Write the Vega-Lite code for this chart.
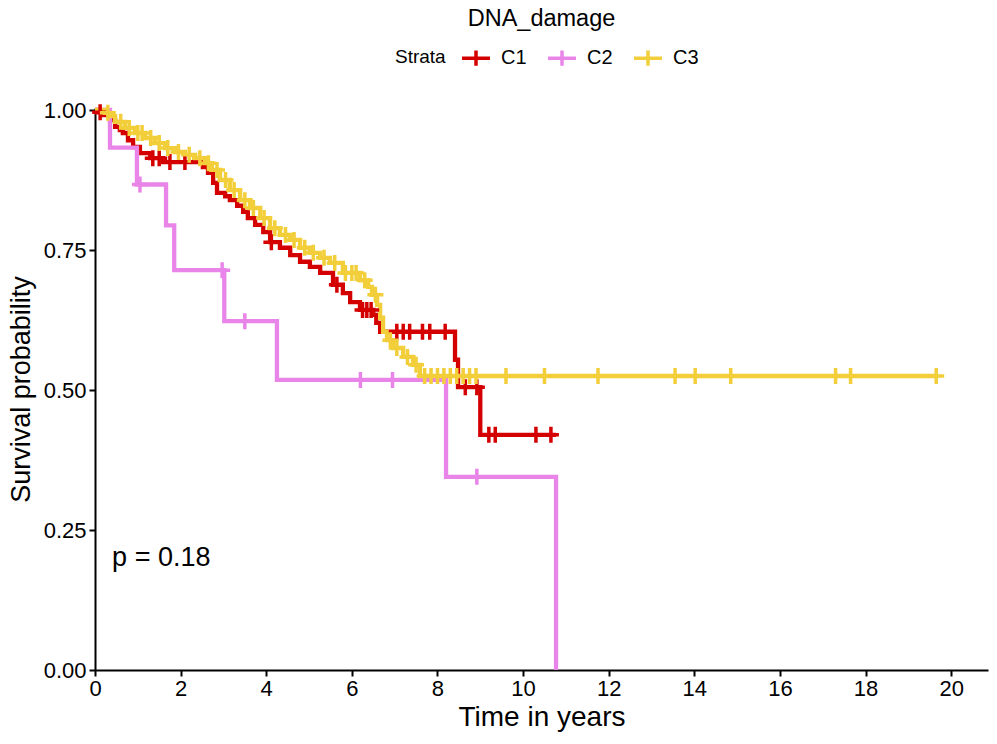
{
  "$schema": "https://vega.github.io/schema/vega-lite/v6.json",
  "width": 893,
  "height": 562,
  "autosize": {"type": "none"},
  "padding": {"left": 95, "top": 108, "right": 9, "bottom": 74},
  "background": "white",
  "title": {"text": "DNA_damage", "anchor": "middle", "fontSize": 23.5, "fontWeight": "normal", "font": "Liberation Sans", "color": "black", "offset": 12},
  "config": {
    "font": "Liberation Sans",
    "view": {"stroke": null},
    "axis": {"grid": false, "domainColor": "black", "domainWidth": 2, "tickColor": "black", "tickWidth": 2, "tickSize": 6, "labelFontSize": 22, "labelColor": "black", "titleFontSize": 27, "titleFontWeight": "normal", "titleColor": "black", "labelFont": "Liberation Sans", "titleFont": "Liberation Sans"}
  },
  "datasets": {
    "curves": [
      {"strata": "C1", "time": 0, "surv": 1},
      {"strata": "C1", "time": 0.05, "surv": 0.996},
      {"strata": "C1", "time": 0.19, "surv": 0.991},
      {"strata": "C1", "time": 0.35, "surv": 0.982},
      {"strata": "C1", "time": 0.47, "surv": 0.970},
      {"strata": "C1", "time": 0.58, "surv": 0.964},
      {"strata": "C1", "time": 0.65, "surv": 0.959},
      {"strata": "C1", "time": 0.77, "surv": 0.946},
      {"strata": "C1", "time": 0.89, "surv": 0.934},
      {"strata": "C1", "time": 1.05, "surv": 0.923},
      {"strata": "C1", "time": 1.29, "surv": 0.914},
      {"strata": "C1", "time": 1.59, "surv": 0.907},
      {"strata": "C1", "time": 2.52, "surv": 0.898},
      {"strata": "C1", "time": 2.64, "surv": 0.888},
      {"strata": "C1", "time": 2.76, "surv": 0.870},
      {"strata": "C1", "time": 2.85, "surv": 0.852},
      {"strata": "C1", "time": 3.04, "surv": 0.846},
      {"strata": "C1", "time": 3.15, "surv": 0.839},
      {"strata": "C1", "time": 3.32, "surv": 0.829},
      {"strata": "C1", "time": 3.46, "surv": 0.818},
      {"strata": "C1", "time": 3.57, "surv": 0.807},
      {"strata": "C1", "time": 3.74, "surv": 0.795},
      {"strata": "C1", "time": 3.93, "surv": 0.782},
      {"strata": "C1", "time": 4.09, "surv": 0.764},
      {"strata": "C1", "time": 4.32, "surv": 0.754},
      {"strata": "C1", "time": 4.56, "surv": 0.741},
      {"strata": "C1", "time": 4.79, "surv": 0.729},
      {"strata": "C1", "time": 5.02, "surv": 0.720},
      {"strata": "C1", "time": 5.26, "surv": 0.709},
      {"strata": "C1", "time": 5.56, "surv": 0.688},
      {"strata": "C1", "time": 5.79, "surv": 0.673},
      {"strata": "C1", "time": 5.96, "surv": 0.657},
      {"strata": "C1", "time": 6.19, "surv": 0.643},
      {"strata": "C1", "time": 6.50, "surv": 0.634},
      {"strata": "C1", "time": 6.57, "surv": 0.620},
      {"strata": "C1", "time": 6.66, "surv": 0.604},
      {"strata": "C1", "time": 8.41, "surv": 0.554},
      {"strata": "C1", "time": 8.48, "surv": 0.505},
      {"strata": "C1", "time": 9.0, "surv": 0.420},
      {"strata": "C1", "time": 10.77, "surv": 0.420},
      {"strata": "C2", "time": 0, "surv": 1},
      {"strata": "C2", "time": 0.35, "surv": 0.933},
      {"strata": "C2", "time": 0.98, "surv": 0.867},
      {"strata": "C2", "time": 1.66, "surv": 0.794},
      {"strata": "C2", "time": 1.85, "surv": 0.714},
      {"strata": "C2", "time": 3.02, "surv": 0.623},
      {"strata": "C2", "time": 4.25, "surv": 0.518},
      {"strata": "C2", "time": 8.2, "surv": 0.345},
      {"strata": "C2", "time": 10.77, "surv": 0},
      {"strata": "C3", "time": 0, "surv": 1},
      {"strata": "C3", "time": 0.23, "surv": 0.995},
      {"strata": "C3", "time": 0.35, "surv": 0.989},
      {"strata": "C3", "time": 0.47, "surv": 0.979},
      {"strata": "C3", "time": 0.70, "surv": 0.968},
      {"strata": "C3", "time": 0.93, "surv": 0.959},
      {"strata": "C3", "time": 1.17, "surv": 0.950},
      {"strata": "C3", "time": 1.40, "surv": 0.941},
      {"strata": "C3", "time": 1.64, "surv": 0.932},
      {"strata": "C3", "time": 1.87, "surv": 0.925},
      {"strata": "C3", "time": 2.10, "surv": 0.920},
      {"strata": "C3", "time": 2.34, "surv": 0.914},
      {"strata": "C3", "time": 2.57, "surv": 0.905},
      {"strata": "C3", "time": 2.73, "surv": 0.893},
      {"strata": "C3", "time": 2.92, "surv": 0.875},
      {"strata": "C3", "time": 3.15, "surv": 0.857},
      {"strata": "C3", "time": 3.39, "surv": 0.839},
      {"strata": "C3", "time": 3.62, "surv": 0.825},
      {"strata": "C3", "time": 3.86, "surv": 0.807},
      {"strata": "C3", "time": 4.09, "surv": 0.789},
      {"strata": "C3", "time": 4.32, "surv": 0.777},
      {"strata": "C3", "time": 4.56, "surv": 0.768},
      {"strata": "C3", "time": 4.79, "surv": 0.754},
      {"strata": "C3", "time": 5.02, "surv": 0.745},
      {"strata": "C3", "time": 5.26, "surv": 0.736},
      {"strata": "C3", "time": 5.49, "surv": 0.727},
      {"strata": "C3", "time": 5.79, "surv": 0.709},
      {"strata": "C3", "time": 6.19, "surv": 0.696},
      {"strata": "C3", "time": 6.38, "surv": 0.684},
      {"strata": "C3", "time": 6.47, "surv": 0.670},
      {"strata": "C3", "time": 6.59, "surv": 0.652},
      {"strata": "C3", "time": 6.66, "surv": 0.629},
      {"strata": "C3", "time": 6.73, "surv": 0.604},
      {"strata": "C3", "time": 6.82, "surv": 0.589},
      {"strata": "C3", "time": 6.96, "surv": 0.575},
      {"strata": "C3", "time": 7.20, "surv": 0.559},
      {"strata": "C3", "time": 7.43, "surv": 0.545},
      {"strata": "C3", "time": 7.59, "surv": 0.525},
      {"strata": "C3", "time": 19.70, "surv": 0.525}
    ],
    "censors": [
      {"strata": "C1", "time": 0.12, "surv": 0.996},
      {"strata": "C1", "time": 1.35, "surv": 0.914},
      {"strata": "C1", "time": 1.5, "surv": 0.914},
      {"strata": "C1", "time": 1.75, "surv": 0.907},
      {"strata": "C1", "time": 2.1, "surv": 0.907},
      {"strata": "C1", "time": 4.12, "surv": 0.764},
      {"strata": "C1", "time": 5.65, "surv": 0.688},
      {"strata": "C1", "time": 6.25, "surv": 0.643},
      {"strata": "C1", "time": 6.35, "surv": 0.643},
      {"strata": "C1", "time": 6.45, "surv": 0.643},
      {"strata": "C1", "time": 7.05, "surv": 0.604},
      {"strata": "C1", "time": 7.2, "surv": 0.604},
      {"strata": "C1", "time": 7.35, "surv": 0.604},
      {"strata": "C1", "time": 7.65, "surv": 0.604},
      {"strata": "C1", "time": 7.82, "surv": 0.604},
      {"strata": "C1", "time": 8.18, "surv": 0.604},
      {"strata": "C1", "time": 8.65, "surv": 0.505},
      {"strata": "C1", "time": 8.92, "surv": 0.505},
      {"strata": "C1", "time": 9.2, "surv": 0.420},
      {"strata": "C1", "time": 9.35, "surv": 0.420},
      {"strata": "C1", "time": 10.3, "surv": 0.420},
      {"strata": "C1", "time": 10.65, "surv": 0.420},
      {"strata": "C2", "time": 1.05, "surv": 0.867},
      {"strata": "C2", "time": 2.97, "surv": 0.714},
      {"strata": "C2", "time": 3.5, "surv": 0.623},
      {"strata": "C2", "time": 6.2, "surv": 0.518},
      {"strata": "C2", "time": 6.95, "surv": 0.518},
      {"strata": "C2", "time": 8.92, "surv": 0.345},
      {"strata": "C3", "time": 0.3, "surv": 0.995},
      {"strata": "C3", "time": 0.6, "surv": 0.979},
      {"strata": "C3", "time": 0.8, "surv": 0.968},
      {"strata": "C3", "time": 1.0, "surv": 0.959},
      {"strata": "C3", "time": 1.1, "surv": 0.959},
      {"strata": "C3", "time": 1.3, "surv": 0.950},
      {"strata": "C3", "time": 1.5, "surv": 0.941},
      {"strata": "C3", "time": 1.7, "surv": 0.932},
      {"strata": "C3", "time": 1.95, "surv": 0.925},
      {"strata": "C3", "time": 2.2, "surv": 0.920},
      {"strata": "C3", "time": 2.45, "surv": 0.914},
      {"strata": "C3", "time": 2.65, "surv": 0.905},
      {"strata": "C3", "time": 2.85, "surv": 0.893},
      {"strata": "C3", "time": 3.05, "surv": 0.875},
      {"strata": "C3", "time": 3.25, "surv": 0.857},
      {"strata": "C3", "time": 3.5, "surv": 0.839},
      {"strata": "C3", "time": 3.7, "surv": 0.825},
      {"strata": "C3", "time": 3.95, "surv": 0.807},
      {"strata": "C3", "time": 4.2, "surv": 0.789},
      {"strata": "C3", "time": 4.45, "surv": 0.777},
      {"strata": "C3", "time": 4.65, "surv": 0.768},
      {"strata": "C3", "time": 4.9, "surv": 0.754},
      {"strata": "C3", "time": 5.1, "surv": 0.745},
      {"strata": "C3", "time": 5.35, "surv": 0.736},
      {"strata": "C3", "time": 5.6, "surv": 0.727},
      {"strata": "C3", "time": 5.85, "surv": 0.709},
      {"strata": "C3", "time": 6.0, "surv": 0.709},
      {"strata": "C3", "time": 6.1, "surv": 0.709},
      {"strata": "C3", "time": 6.3, "surv": 0.696},
      {"strata": "C3", "time": 6.55, "surv": 0.670},
      {"strata": "C3", "time": 6.9, "surv": 0.589},
      {"strata": "C3", "time": 7.05, "surv": 0.575},
      {"strata": "C3", "time": 7.3, "surv": 0.559},
      {"strata": "C3", "time": 7.5, "surv": 0.545},
      {"strata": "C3", "time": 7.7, "surv": 0.525},
      {"strata": "C3", "time": 7.85, "surv": 0.525},
      {"strata": "C3", "time": 8.0, "surv": 0.525},
      {"strata": "C3", "time": 8.15, "surv": 0.525},
      {"strata": "C3", "time": 8.3, "surv": 0.525},
      {"strata": "C3", "time": 8.45, "surv": 0.525},
      {"strata": "C3", "time": 8.6, "surv": 0.525},
      {"strata": "C3", "time": 8.75, "surv": 0.525},
      {"strata": "C3", "time": 8.9, "surv": 0.525},
      {"strata": "C3", "time": 9.6, "surv": 0.525},
      {"strata": "C3", "time": 10.5, "surv": 0.525},
      {"strata": "C3", "time": 11.75, "surv": 0.525},
      {"strata": "C3", "time": 13.55, "surv": 0.525},
      {"strata": "C3", "time": 14.02, "surv": 0.525},
      {"strata": "C3", "time": 14.85, "surv": 0.525},
      {"strata": "C3", "time": 17.3, "surv": 0.525},
      {"strata": "C3", "time": 17.65, "surv": 0.525},
      {"strata": "C3", "time": 19.65, "surv": 0.525}
    ],
    "annot": [{"time": 0.4, "surv": 0.2, "label": "p = 0.18"}]
  },
  "layer": [
    {
      "data": {"name": "curves"},
      "mark": {"type": "line", "interpolate": "step-after", "strokeWidth": 4.3, "clip": false},
      "encoding": {
        "x": {"field": "time", "type": "quantitative", "scale": {"domain": [0, 20.86], "nice": false, "zero": false}, "axis": {"values": [0, 2, 4, 6, 8, 10, 12, 14, 16, 18, 20], "title": "Time in years", "titleFontSize": 28, "labelPadding": 2, "titlePadding": 4, "labelFlush": false}},
        "y": {"field": "surv", "type": "quantitative", "scale": {"domain": [0, 1.0036], "nice": false}, "axis": {"values": [0, 0.25, 0.5, 0.75, 1], "format": ".2f", "title": "Survival probability", "labelPadding": 3, "titlePadding": 8}},
        "color": {"field": "strata", "type": "nominal", "scale": {"domain": ["C1", "C2", "C3"], "range": ["#D40000", "#E985E8", "#F2CF3A"]},
          "legend": {"title": "Strata", "orient": "none", "legendX": 300, "legendY": -66, "direction": "horizontal", "titleOrient": "left", "titleFontSize": 19, "titleFontWeight": "normal", "titleColor": "black", "titlePadding": 14, "labelFontSize": 20, "labelColor": "black", "labelOffset": 9, "columnPadding": 14, "symbolType": "M-1,0L1,0M0,-0.55L0,0.55", "symbolSize": 784, "symbolStrokeWidth": 3.5, "symbolFillColor": "transparent", "titleAnchor": "middle", "titleBaseline": "middle"}}
      }
    },
    {
      "data": {"name": "censors"},
      "mark": {"type": "point", "shape": "M-1,0L1,0M0,-1L0,1", "filled": false, "size": 256, "strokeWidth": 3.5, "opacity": 1},
      "encoding": {
        "x": {"field": "time", "type": "quantitative"},
        "y": {"field": "surv", "type": "quantitative"},
        "color": {"field": "strata", "type": "nominal"}
      }
    },
    {
      "data": {"name": "annot"},
      "mark": {"type": "text", "align": "left", "baseline": "middle", "fontSize": 27, "color": "black", "font": "Liberation Sans"},
      "encoding": {
        "x": {"field": "time", "type": "quantitative"},
        "y": {"field": "surv", "type": "quantitative"},
        "text": {"field": "label"}
      }
    }
  ]
}
